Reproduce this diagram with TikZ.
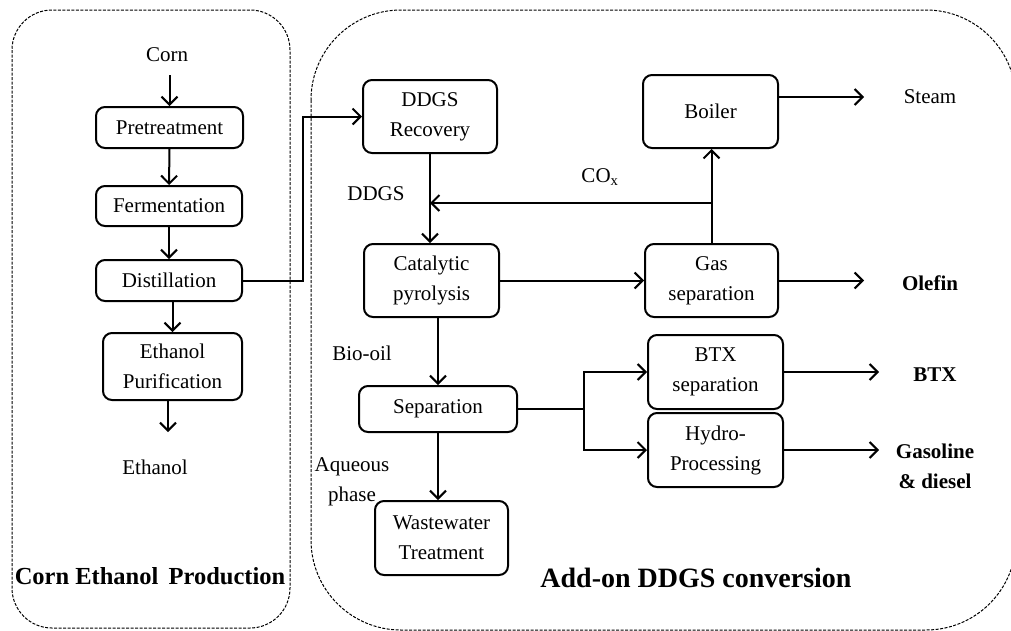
\documentclass[tikz,border=0pt]{standalone}
\usepackage{fontspec}
\setmainfont{Liberation Serif}
\usetikzlibrary{arrows.meta}
\begin{document}
\begin{tikzpicture}[x=1pt,y=-1pt,
  every node/.style={font=\fontsize{21}{30}\selectfont, align=center, inner sep=0pt},
  box/.style={draw, line width=2pt, rounded corners=9pt},
  arr/.style={line width=2pt, -{Straight Barb[length=8pt,width=16pt,line width=2pt]}},
  ln/.style={line width=2pt},
  panel/.style={line width=1pt, dash pattern=on 3pt off 1.5pt},
  bold/.style={font=\fontsize{21}{30}\selectfont\bfseries}]
\useasboundingbox (0,0) rectangle (1011,630);
\begin{scope}
\clip (0,0) rectangle (1011,630);
\draw[panel, rounded corners=40pt] (12,10) rectangle (290,628);
\draw[panel, rounded corners=90pt] (311,10) rectangle (1016,630);
\end{scope}

% left column
\node (corn) at (167,55) {Corn};
\node[box, minimum width=147pt, minimum height=41pt] (pre) at (169.5,127.5) {Pretreatment};
\node[box, minimum width=146pt, minimum height=40pt] (fer) at (169,206) {Fermentation};
\node[box, minimum width=146pt, minimum height=41pt] (dis) at (169,280.5) {Distillation};
\node[box, minimum width=139pt, minimum height=67pt] (pur) at (172.5,366.5) {Ethanol\\Purification};
\node (eth) at (155,467) {Ethanol};
\node[font=\fontsize{24.5}{30}\selectfont\bfseries] (t1) at (150,576) {Corn Ethanol\, Production};

\coordinate (cornout) at (169.5,75);
\draw[arr] (cornout) -- (pre.north);
\draw[arr] (pre.south) -- (fer.north);
\draw[arr] (fer.south) -- (dis.north);
\draw[arr] (dis.south -| pur.north) -- (pur.north);
\coordinate (ethin) at (168,432);
\draw[arr] (pur.south -| ethin) -- (ethin);

% right part
\node[box, minimum width=134pt, minimum height=73pt] (ddgs) at (430,116.5) {DDGS\\Recovery};
\node[box, minimum width=135pt, minimum height=73pt] (cat) at (431.5,280.5) {Catalytic\\pyrolysis};
\node[box, minimum width=135pt, minimum height=73pt] (boil) at (710.5,111.5) {Boiler};
\node[box, minimum width=133pt, minimum height=73pt] (gas) at (711.5,280.5) {Gas\\separation};
\node[box, minimum width=158pt, minimum height=46pt] (sep) at (438,409) {Separation};
\node[box, minimum width=135pt, minimum height=74pt] (btx) at (715.5,372) {BTX\\separation};
\node[box, minimum width=135pt, minimum height=74pt] (hyd) at (715.5,450) {Hydro-\\Processing};
\node[box, minimum width=133pt, minimum height=74pt] (ww) at (441.5,538) {Wastewater\\Treatment};

\node (lddgs) at (376,194) {DDGS};
\node (lco) at (600,177) {CO\textsubscript{x}};
\node (lbio) at (362,353) {Bio-oil};
\node (laq) at (352,482) {Aqueous\\phase};
\node (steam) at (930,97) {Steam};
\node[bold] (olefin) at (930,283) {Olefin};
\node[bold] (btxo) at (935,375) {BTX};
\node[bold] (gaso) at (935,466) {Gasoline\\\& diesel};
\node[font=\fontsize{28}{30}\selectfont\bfseries] (t2) at (696,578) {Add-on DDGS conversion};

\draw[arr] (dis.east) -- ++(60,0) |- (ddgs.west);
\draw[arr] (ddgs.south) -- (ddgs.south |- cat.north);
\draw[arr] (cat.east) -- (cat.east -| gas.west);
\draw[arr] (gas.north) -- (gas.north |- boil.south);
\coordinate (j) at (711.5,203);
\draw[arr] (j) -- (ddgs.south |- j);
\draw[arr] ([yshift=14.5pt]boil.east) -- ++(85,0);
\draw[arr] (gas.east) -- ++(85,0);
\draw[arr] (sep.north |- cat.south) -- (sep.north);
\draw[ln] (sep.east) -- ++(66,0) coordinate (br);
\draw[arr] (br) |- (btx.west);
\draw[arr] (br) |- (hyd.west);
\draw[arr] (btx.east) -- ++(95,0);
\draw[arr] (hyd.east) -- ++(95,0);
\draw[arr] (sep.south) -- (sep.south |- ww.north);
\end{tikzpicture}
\end{document}
